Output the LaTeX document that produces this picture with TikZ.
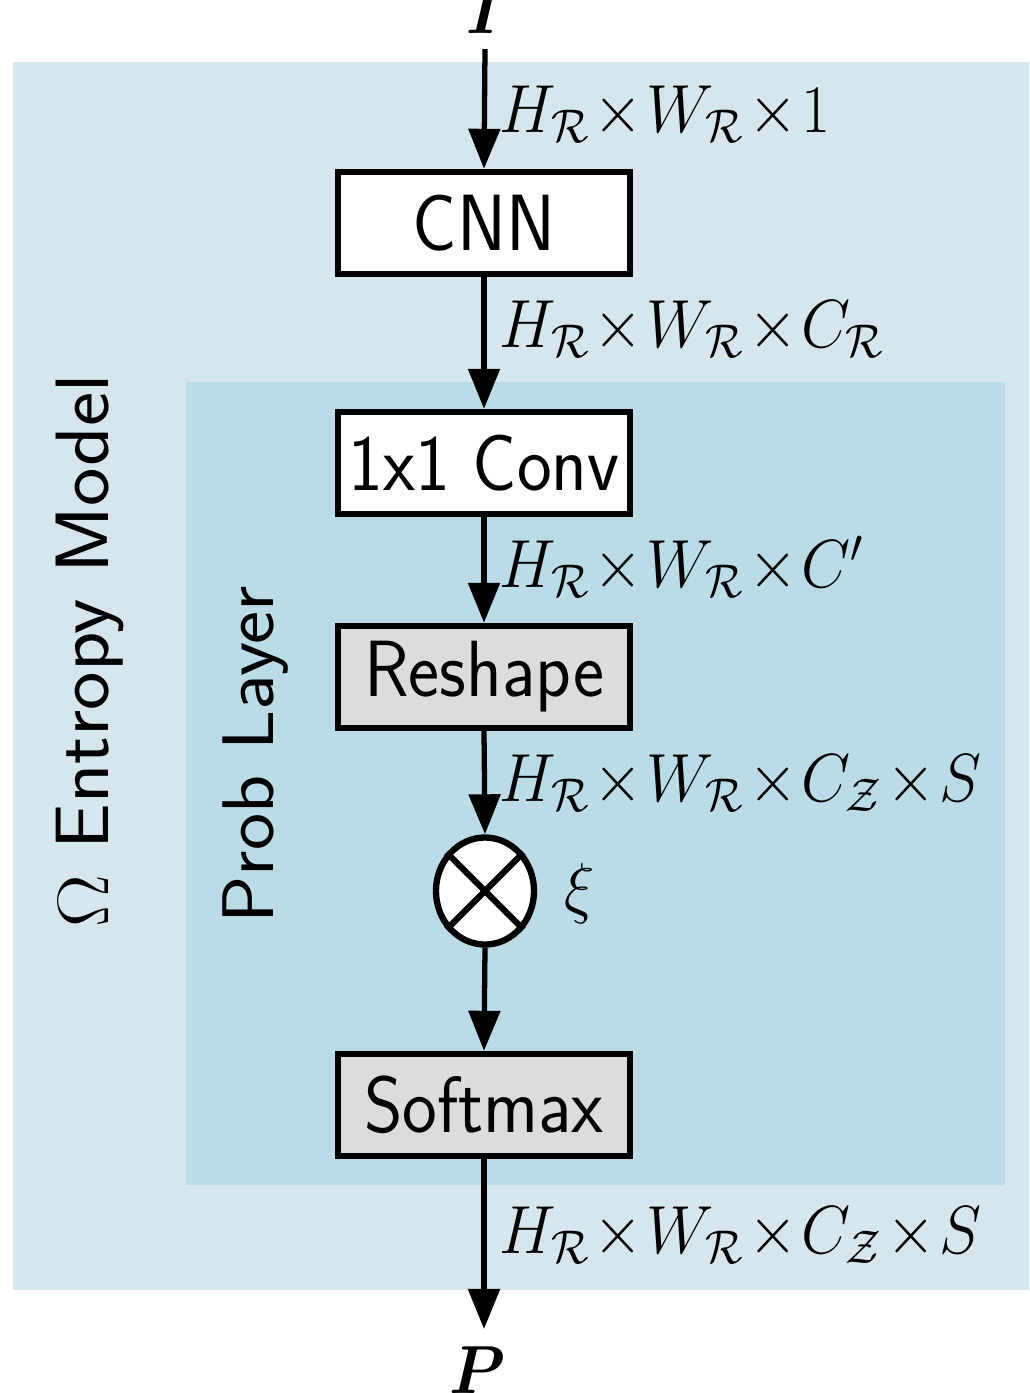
\documentclass[tikz,border=0pt]{standalone}
\usepackage{amsmath,amssymb,bm,graphicx}
\usetikzlibrary{arrows.meta,shapes.geometric}
\definecolor{outerblue}{RGB}{214,230,238}
\definecolor{innerblue}{RGB}{187,219,231}
\definecolor{boxgray}{RGB}{220,220,220}
\newcommand{\vstr}[1]{\scalebox{1}[1.08]{#1}}
\newcommand{\hstr}[1]{\scalebox{1.08}[1]{#1}}
\newcommand{\mstr}[1]{\scalebox{1.045}[1.12]{#1}}
\tikzset{
  px/.style={x=0.01cm,y=-0.01cm},
  blk/.style={draw=black,line width=1.8pt,fill=white,minimum width=2.92cm,minimum height=1.02cm,inner sep=0pt,font=\fontsize{21}{24}\selectfont\sffamily},
  grayblk/.style={blk,fill=boxgray},
  arr/.style={line width=1.5pt,-{Triangle[length=4mm,width=3.1mm]}},
  dimlab/.style={anchor=base west,inner sep=0pt,font=\fontsize{17.28}{20}\selectfont},
  sidelab/.style={rotate=90,inner sep=0pt,font=\fontsize{21.5}{24}\selectfont\sffamily},
}
\begin{document}
\begin{tikzpicture}[px]
\useasboundingbox (0,0) rectangle (1029,1393);
\clip (0,0) rectangle (1029,1393);
\fill[outerblue] (13,62) rectangle (1040,1290);
\fill[innerblue] (186,382) rectangle (1005,1185);

\node[sidelab] (omega) at (90,651) {\hstr{$\Omega$ Entropy Model}};
\node[sidelab,font=\fontsize{20.8}{24}\selectfont\sffamily] (prob) at (256,755) {\hstr{Prob Layer}};

\node[inner sep=0pt,outer sep=0.16cm,anchor=south,font=\fontsize{17.28}{20}\selectfont] (I) at (485,49) {\mstr{$\bm{I}$}};
\node[blk] (cnn) at (484,223) {\vstr{CNN}};
\node[blk] (conv) at (484,463) {\vstr{1x1 Conv}};
\node[grayblk] (reshape) at (484,677) {\vstr{Reshape}};
\node[ellipse,draw=black,line width=1.8pt,fill=white,minimum width=0.98cm,minimum height=1.07cm,inner sep=0pt] (mul) at (485,891) {};
\draw[line width=1.8pt] (mul.45) -- (mul.225) (mul.135) -- (mul.315);
\node[font=\fontsize{17.28}{20}\selectfont,inner sep=0pt] (xi) at (580,893) {\mstr{$\xi$}};
\node[grayblk] (softmax) at (484,1105) {\vstr{Softmax}};
\node[inner sep=0pt,outer sep=0.18cm,anchor=north,font=\fontsize{17.28}{20}\selectfont] (P) at (478,1329) {\mstr{$\bm{P}$}};

\draw[arr] (I.south) -- (cnn.north);
\draw[arr] (cnn.south) -- (conv.north);
\draw[arr] (conv.south) -- (reshape.north);
\draw[arr] (reshape.south) -- (mul.north);
\draw[arr] (mul.south) -- (softmax.north);
\draw[arr] (softmax.south) -- (P.north -| softmax.south);

\node[dimlab] (l1) at (499,132) {\mstr{$H_{\mathcal{R}}\!\times\! W_{\mathcal{R}}\!\times\! 1$}};
\node[dimlab] (l2) at (499,347) {\mstr{$H_{\mathcal{R}}\!\times\! W_{\mathcal{R}}\!\times\! C_{\mathcal{R}}$}};
\node[dimlab] (l3) at (499,587) {\mstr{$H_{\mathcal{R}}\!\times\! W_{\mathcal{R}}\!\times\! C'$}};
\node[dimlab] (l4) at (499,801) {\mstr{$H_{\mathcal{R}}\!\times\! W_{\mathcal{R}}\!\times\! C_{\mathcal{Z}}\!\times\! S$}};
\node[dimlab] (l5) at (499,1253) {\mstr{$H_{\mathcal{R}}\!\times\! W_{\mathcal{R}}\!\times\! C_{\mathcal{Z}}\!\times\! S$}};
\end{tikzpicture}
\end{document}
